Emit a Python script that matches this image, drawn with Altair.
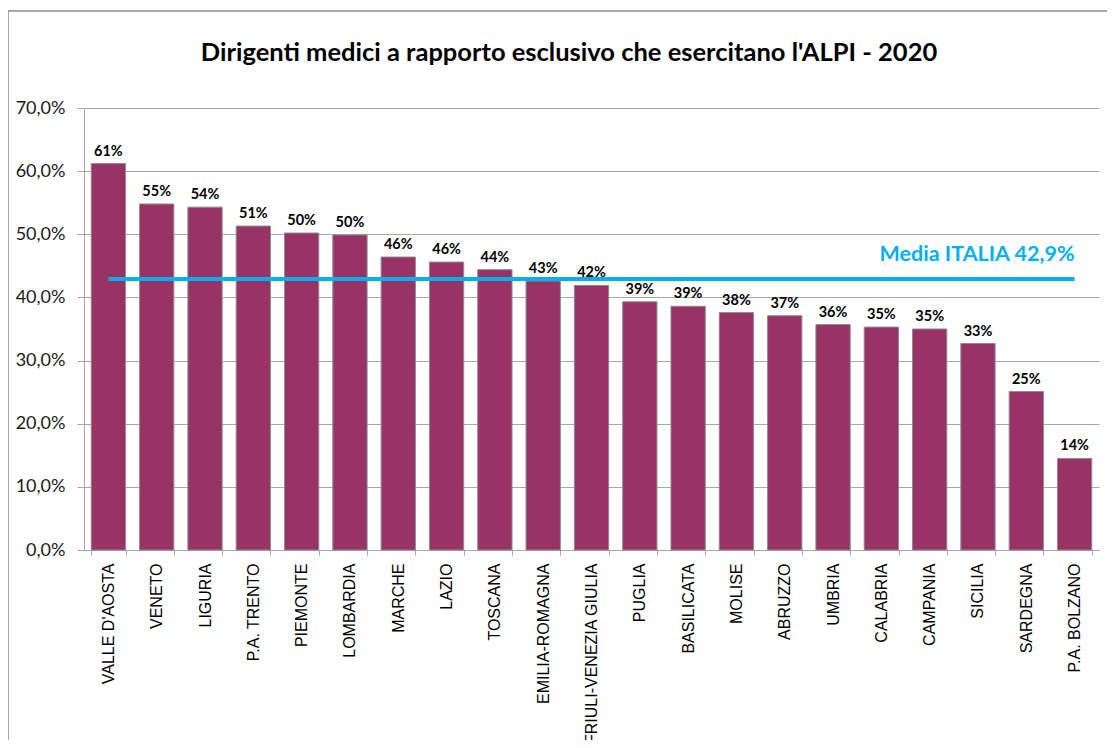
import altair as alt
import pandas as pd

regions = ["VALLE D'AOSTA", "VENETO", "LIGURIA", "P.A. TRENTO", "PIEMONTE", "LOMBARDIA",
           "MARCHE", "LAZIO", "TOSCANA", "EMILIA-ROMAGNA", "FRIULI-VENEZIA GIULIA",
           "PUGLIA", "BASILICATA", "MOLISE", "ABRUZZO", "UMBRIA", "CALABRIA",
           "CAMPANIA", "SICILIA", "SARDEGNA", "P.A. BOLZANO"]
values = [0.612, 0.548, 0.543, 0.513, 0.502, 0.499, 0.464, 0.456, 0.444, 0.426, 0.419,
          0.393, 0.386, 0.376, 0.371, 0.357, 0.353, 0.350, 0.327, 0.251, 0.145]
media = 0.429
media_label = "Media ITALIA 42,9%"
title_text = "Dirigenti medici a rapporto esclusivo che esercitano l'ALPI - 2020"

df = pd.DataFrame({"regione": regions, "valore": values})
df_media = pd.DataFrame({"regione": [regions[0], regions[-1]], "valore": [media, media]})
df_media_lbl = pd.DataFrame({"regione": [regions[-1]], "valore": [media], "testo": [media_label]})
df_title = pd.DataFrame({"testo": [title_text]})

W, H = 1015, 442

x = alt.X("regione:N", sort=regions, title=None,
          scale=alt.Scale(paddingInner=0.29, paddingOuter=0.15),
          axis=alt.Axis(labelAngle=-90, labelFont="Liberation Sans", labelFontSize=16,
                        labelColor="#000000", tickBand="extent", tickColor="#A6A6A6",
                        tickSize=5, domainColor="#A6A6A6", labelPadding=8,
                        labelLimit=300))
y = alt.Y("valore:Q", title=None,
          scale=alt.Scale(domain=[0, 0.7], nice=False),
          axis=alt.Axis(values=[0, 0.1, 0.2, 0.3, 0.4, 0.5, 0.6, 0.7],
                        labelExpr="replace(format(datum.value, '.1%'), '.', ',')",
                        labelFont="Lato", labelFontSize=18, labelColor="#1a1a1a",
                        gridColor="#A6A6A6", domainColor="#A6A6A6", tickColor="#A6A6A6",
                        tickSize=7, labelPadding=12))

frame = alt.Chart(pd.DataFrame({"a": [0]})).mark_rect(
    fill=None, stroke="#8c8c8c", strokeWidth=1.5, clip=False
).encode(x=alt.value(-76), x2=alt.value(W + 60), y=alt.value(-97), y2=alt.value(H + 300))

title = alt.Chart(df_title).mark_text(
    font="Lato", fontWeight="bold", fontSize=25.5, color="#000000", align="center", baseline="middle"
).encode(x=alt.value(485), y=alt.value(-55), text="testo:N")

bars = alt.Chart(df).mark_bar(color="#993366", stroke="#8C8C8C", strokeWidth=1).encode(x=x, y=y)

labels = alt.Chart(df).mark_text(
    dy=-12, font="Lato", fontWeight="bold", fontSize=14.5, color="#000000"
).encode(x=alt.X("regione:N", sort=regions), y="valore:Q",
         text=alt.Text("valore:Q", format=".0%"))

line = alt.Chart(df_media).mark_line(color="#00B0F0", strokeWidth=4).encode(
    x=alt.X("regione:N", sort=regions), y="valore:Q")

media_text = alt.Chart(df_media_lbl).mark_text(
    align="right", dx=0, dy=-24, font="Lato", fontWeight="bold", fontSize=21.5, color="#00B0F0"
).encode(x=alt.X("regione:N", sort=regions), y="valore:Q", text="testo:N")

chart = alt.layer(frame, bars, line, labels, media_text, title).properties(
    width=W, height=H,
    padding={"left": 76, "top": 100, "right": 8, "bottom": 190},
    autosize=alt.AutoSizeParams(type="none"),
    background="#ffffff",
).configure_view(stroke=None)

chart.save("out.html", embed_options={"renderer": "svg", "actions": False})
